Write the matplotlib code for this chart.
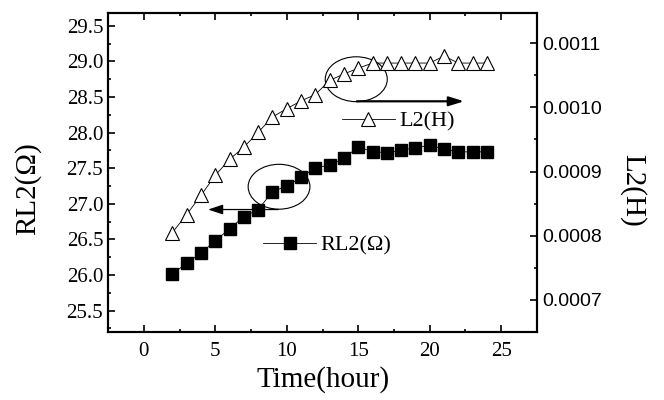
import numpy as np
import matplotlib
matplotlib.use('Agg')
import matplotlib.pyplot as plt
from matplotlib.patches import Ellipse
from matplotlib.ticker import MultipleLocator, FormatStrFormatter

plt.rcParams['font.family'] = ['Liberation Serif', 'DejaVu Serif']
plt.rcParams['mathtext.fontset'] = 'stix'

# time in hours
hours = [2, 3, 4, 5, 6, 7, 8, 9, 10, 11, 12, 13,
         14, 15, 16, 17, 18, 19, 20, 21, 22, 23, 24]
# resistance RL2 (ohm)
rl2 = [26.01, 26.17, 26.31, 26.48, 26.65, 26.82, 26.92, 27.17, 27.25, 27.37, 27.51, 27.54,
       27.64, 27.80, 27.73, 27.72, 27.75, 27.79, 27.82, 27.77, 27.73, 27.73, 27.73]
# inductance L2 (H)
l2 = [0.000805, 0.000833, 0.000863, 0.000894, 0.000919, 0.000938, 0.000961, 0.000985,
      0.000998, 0.001010, 0.001020, 0.001042, 0.001052, 0.001061, 0.001069, 0.001069,
      0.001069, 0.001069, 0.001069, 0.001080, 0.001069, 0.001069, 0.001069]

fig = plt.figure(figsize=(6.64, 4.0), dpi=100)
ax = fig.add_axes([0.1627, 0.17, 0.646, 0.7975])
ax2 = ax.twinx()

ax.plot(hours, rl2, '-', color='black', lw=0.6, marker='s', ms=8.5,
        mfc='black', mec='black', label='RL2(\u03a9)')
ax2.plot(hours, l2, '-', color='black', lw=0.6, marker='^', ms=9.5,
         mfc='white', mec='black', mew=0.8, label='L2(H)')

ax.set_xlim(-2.5, 27.5)
ax.set_ylim(25.2, 29.68)
ax2.set_ylim(0.00065, 0.001147)

ax.xaxis.set_major_locator(MultipleLocator(5))
ax.xaxis.set_minor_locator(MultipleLocator(2.5))
ax.yaxis.set_major_locator(MultipleLocator(0.5))
ax.yaxis.set_minor_locator(MultipleLocator(0.25))
ax.yaxis.set_major_formatter(FormatStrFormatter('%.1f'))
ax2.yaxis.set_major_locator(MultipleLocator(0.0001))
ax2.yaxis.set_minor_locator(MultipleLocator(0.00005))
ax2.yaxis.set_major_formatter(FormatStrFormatter('%.4f'))

for a in (ax, ax2):
    for s in a.spines.values():
        s.set_linewidth(1.5)
ax.tick_params(which='both', direction='in', top=True, right=False, width=1.2)
ax.tick_params(which='major', length=5, labelsize=15)
ax.tick_params(axis='x', which='major', pad=7)
ax.tick_params(which='minor', length=2.5)
ax2.tick_params(which='both', direction='in', width=1.2)
ax2.tick_params(which='major', length=5, labelsize=14)
ax2.tick_params(which='minor', length=2.5)
for lab in ax2.get_yticklabels():
    lab.set_family('Liberation Sans')

ax.set_xlabel('Time(hour)', fontsize=21, va='center')
ax.xaxis.set_label_coords(0.501, -0.15)
ax.set_ylabel('RL2(\u03a9)', fontsize=21, va='center')
ax.yaxis.set_label_coords(-0.188, 0.448)
ax2.set_ylabel('L2(H)', fontsize=21, rotation=270, va='center')
ax2.yaxis.set_label_coords(1.224, 0.445)

# circles around the two curves and the arrows pointing to their axes
ax.add_patch(Ellipse((9.46, 27.24), 4.32, 0.63, fill=False, lw=0.8, ec='black'))
ax.add_patch(Ellipse((14.86, 28.75), 4.34, 0.63, fill=False, lw=0.8, ec='black'))
ax.annotate('', xy=(4.5, 26.92), xytext=(9.4, 26.92),
            arrowprops=dict(arrowstyle='-|>,head_length=0.9,head_width=0.3',
                            lw=0.9, color='black', shrinkA=0, shrinkB=0))
ax.annotate('', xy=(22.4, 28.44), xytext=(14.9, 28.44),
            arrowprops=dict(arrowstyle='-|>,head_length=0.9,head_width=0.28',
                            lw=1.6, color='black', shrinkA=0, shrinkB=0))

leg1 = ax.legend(loc='center left', bbox_to_anchor=(0.396, 0.3875),
                 bbox_transform=fig.transFigure, frameon=False, fontsize=16,
                 numpoints=1, handlelength=2.4, handletextpad=0.2,
                 borderpad=0, borderaxespad=0)
leg2 = ax2.legend(loc='center left', bbox_to_anchor=(0.5146, 0.696),
                  bbox_transform=fig.transFigure, frameon=False, fontsize=16,
                  numpoints=1, handlelength=2.4, handletextpad=0.2,
                  borderpad=0, borderaxespad=0)

fig.savefig('out.png', dpi=100)
